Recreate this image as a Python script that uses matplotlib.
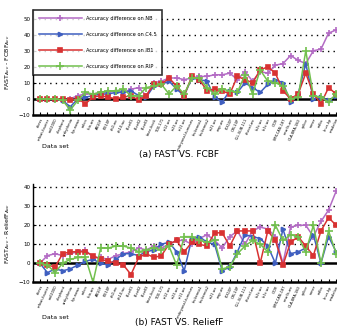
import matplotlib
matplotlib.use("Agg")
import matplotlib.pyplot as plt
import numpy as np

# nazivi skupova podataka (sitno ispisani na x osi)
DATASETS = ["chess", "mfeat-fourier", "coil2000", "elephant", "arrhythmia",
            "fqs-nowe", "colon", "fbis.wc", "AR10P", "PIE10P", "oh0.wc",
            "oh10.wc", "B-cell1", "B-cell2", "B-cell3", "base-hock", "TOX-171",
            "tr12.wc", "tr23.wc", "tr11.wc", "embryonal-tumours", "leukemia1",
            "leukemia2", "tr21.wc", "wap.wc", "PIX10P", "ORL10P", "CLL-SUB-111",
            "ohscal.wc", "la2s.wc", "la1s.wc", "GCM", "SMK-CAN-187", "new3s.wc",
            "GLA-BRA-180", "splice", "sonar", "wdbc", "kr-vs-kp", "madelon"]

# (a) FAST vs. FCBF
FCBF_NB = [0, 0, 0, -1, 0, 2, 3, 3, 4, 4, 5, 4, 6, 7, 2, 10, 11, 13, 13, 12,
           13, 14, 14, 15, 15, 16, 12, 17, 11, 17, 16, 21, 22, 27, 24, 22, 30, 31, 41, 43]
FCBF_C45 = [0, 0, 0, -1, -5, 0, 1, 2, 3, 3, 4, 4, 5, 2, 1, 8, 9, 11, 6, 2,
            13, 12, 11, 1, -2, 5, 4, 10, 7, 4, 9, 12, 10, -2, 3, 22, 0, 1, -1, 2]
FCBF_IB1 = [0, 0, 0, 0, -1, 0, -3, 1, 2, 1, 0, 1, 2, -1, 2, 9, 9, 13, 8, 2,
            14, 12, 5, 6, 5, 3, 14, 12, 10, 18, 20, 16, 5, 0, 3, 16, 3, -3, 7, 3]
FCBF_RIP = [0, 0, 0, -1, -7, -1, 4, 3, 4, 5, 5, 6, 2, 2, 7, 8, 9, 3, 8, 3,
            13, 13, 7, 3, 6, 5, 4, 15, 3, 18, 11, 10, 8, 0, 1, 30, 2, 1, -2, 3]

# (b) FAST vs. ReliefF
REL_NB = [0, 4, 5, 4, 5, 6, 7, 3, 3, 2, 4, 5, 6, 8, 7, 9, 8, 10, 12, 12,
          10, 13, 15, 12, 8, 14, 17, 10, 17, 19, 18, 14, 0, 19, 20, 20, 14, 22, 28, 38]
REL_C45 = [0, -5, -3, -4, -3, -1, 1, 2, 0, -1, 2, 5, 5, 4, 6, 7, 10, 11, 6, -4,
           13, 14, 11, 10, -4, -2, 6, 15, 14, 13, 9, 0, 18, 5, 6, 8, 15, 0, 14, 6]
REL_IB1 = [0, -1, -2, 5, 6, 6, 6, 4, 2, 1, 0, -1, -6, 3, 5, 3, 4, 10, 12, 6,
           11, 10, 9, 16, 16, 9, 17, 17, 17, 0, 17, 12, -1, 11, 14, 9, 4, 17, 24, 20]
REL_RIP = [0, -1, -5, 0, 2, 3, 3, -10, 8, 8, 9, 9, 8, 6, 7, 8, 7, 9, -1, 14,
           14, 12, 11, 12, -3, -2, 5, 9, 12, 10, 6, 20, 12, 15, 14, 6, 20, 0, 17, 5]

SERIJE = [("Accuracy difference on NB", "#b36bc4", "+", 4),
          ("Accuracy difference on C4.5", "#3f5fc0", ">", 3),
          ("Accuracy difference on IB1", "#d83232", "s", 2.5),
          ("Accuracy difference on RIP", "#72c04e", "+", 6)]


def nacrtaj(ax, vrijednosti, ymax, yticks, ylabel, naslov, legenda, dy_data, dy_title):
    x = np.arange(len(DATASETS))
    for (naziv, boja, marker, ms), y in zip(SERIJE, vrijednosti):
        ax.plot(x, y, color=boja, marker=marker, markersize=ms,
                markeredgewidth=1.2, linewidth=1.1, label=naziv)
    ax.axhline(0, color="black", linewidth=1.8, zorder=1)
    for t in yticks[1:]:
        if t != 0:
            ax.axhline(t, color="black", linestyle=(0, (1, 3)), linewidth=1.0, zorder=0)
    ax.set_xlim(-0.9, 39.2)
    ax.set_ylim(-10, ymax)
    ax.set_yticks(yticks)
    ax.tick_params(axis="y", labelsize=4, length=2, direction="in", pad=2)
    ax.set_xticks(x)
    ax.set_xticklabels(DATASETS, rotation=65, ha="right", fontsize=2.6,
                       rotation_mode="anchor")
    ax.tick_params(axis="x", length=2, direction="in", pad=2)
    ax.spines["top"].set_visible(False)
    ax.spines["right"].set_visible(False)
    ax.spines["left"].set_linewidth(1.0)
    ax.spines["bottom"].set_linewidth(1.8)
    ax.set_ylabel(ylabel, fontsize=4.5, labelpad=5)
    ax.text(0.03, dy_data, "Data set", transform=ax.transAxes, fontsize=4.5,
            va="center")
    ax.text(0.48, dy_title, naslov, transform=ax.transAxes, fontsize=6.5,
            ha="center", va="center")
    if legenda:
        leg = ax.legend(loc="upper left", fontsize=3.6, frameon=True,
                        fancybox=False, borderaxespad=0.0, handlelength=8.5,
                        labelspacing=2.2, borderpad=1.2)
        leg.get_frame().set_edgecolor("black")
        leg.get_frame().set_linewidth(1.2)


fig = plt.figure(figsize=(3.37, 3.30), dpi=100)
ax1 = fig.add_axes([0.098, 0.652, 0.904, 0.318])
ax2 = fig.add_axes([0.098, 0.145, 0.904, 0.296])

nacrtaj(ax1, [FCBF_NB, FCBF_C45, FCBF_IB1, FCBF_RIP], 55.5,
        [-10, 0, 10, 20, 30, 40, 50],
        r"FAST$_{Acc}$ - FCBF$_{Acc}$", "(a) FAST VS. FCBF", True, -0.30, -0.38)
nacrtaj(ax2, [REL_NB, REL_C45, REL_IB1, REL_RIP], 41.5,
        [-10, 0, 10, 20, 30, 40],
        r"FAST$_{Acc}$ - ReliefF$_{Acc}$", "(b) FAST VS. ReliefF", False, -0.36, -0.41)

fig.savefig("out.png", dpi=100)
